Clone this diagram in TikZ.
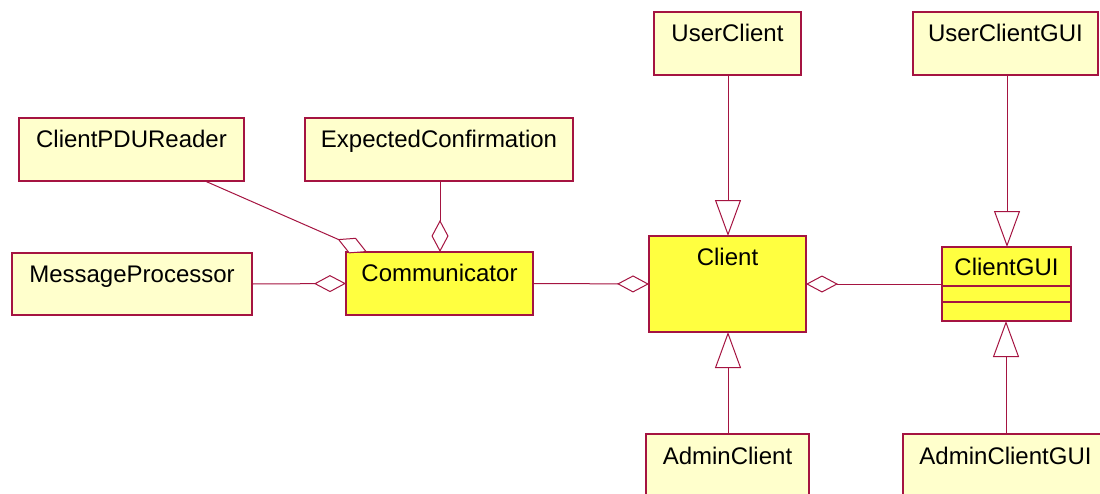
\documentclass[tikz,border=0pt]{standalone}
\usepackage{fontspec}
\setmainfont{Liberation Sans}
\usetikzlibrary{arrows.meta,calc}
\definecolor{umlred}{RGB}{165,20,65}
\definecolor{lightyel}{RGB}{255,255,204}
\definecolor{brightyel}{RGB}{255,255,64}
\tikzset{
  clsbox/.style={draw=umlred,line width=1.1pt,fill=lightyel,inner sep=0pt,outer sep=0pt,anchor=north west},
  hotbox/.style={clsbox,fill=brightyel},
  clstext/.style={anchor=base,inner sep=0pt,font=\fontsize{24}{28}\selectfont},
  conn/.style={draw=umlred,line width=1pt},
  aggr/.style={conn,{Diamond[length=32pt,width=17pt,fill=white,line width=1pt]}-},
  inher/.style={conn,-{Triangle[length=36pt,width=26pt,fill=white,line width=1pt]}}
}
\begin{document}
\begin{tikzpicture}[x=1pt,y=-1pt]
\useasboundingbox (0,0) rectangle (1100,493);
\clip (0,0) rectangle (1100,493);
\fill[white] (0,0) rectangle (1100,493);
% boxes
\node[clsbox,minimum width=225pt,minimum height=63pt] (cpr) at (19,118) {};
\node[clsbox,minimum width=268pt,minimum height=63pt] (ec) at (305,118) {};
\node[clsbox,minimum width=240pt,minimum height=62pt] (mp) at (12,253) {};
\node[hotbox,minimum width=187pt,minimum height=63pt] (comm) at (346,252) {};
\node[hotbox,minimum width=157pt,minimum height=96pt] (cl) at (649,236) {};
\node[hotbox,minimum width=129pt,minimum height=74pt] (cg) at (942,247) {};
\node[clsbox,minimum width=147pt,minimum height=63pt] (uc) at (654,12) {};
\node[clsbox,minimum width=185pt,minimum height=63pt] (ucg) at (913,12) {};
\node[clsbox,minimum width=163pt,minimum height=70pt] (ac) at (646,434) {};
\node[clsbox,minimum width=205pt,minimum height=70pt] (acg) at (903,434) {};
% ClientGUI compartments
\draw[draw=umlred,line width=1.1pt] ($(cg.north west)+(0,39)$) -- ($(cg.north east)+(0,39)$);
\draw[draw=umlred,line width=1.1pt] ($(cg.north west)+(0,55)$) -- ($(cg.north east)+(0,55)$);
% labels
\node[clstext] (cprt) at ($(cpr.north)+(0,29)$) {ClientPDUReader};
\node[clstext] (ect) at ($(ec.north)+(0,29)$) {ExpectedConfirmation};
\node[clstext] (mpt) at ($(mp.north)+(0,29)$) {MessageProcessor};
\node[clstext] (commt) at ($(comm.north)+(0,29)$) {Communicator};
\node[clstext] (clt) at ($(cl.north)+(0,29)$) {Client};
\node[clstext] (cgt) at ($(cg.north)+(0,28)$) {ClientGUI};
\node[clstext] (uct) at ($(uc.north)+(0,29)$) {UserClient};
\node[clstext] (ucgt) at ($(ucg.north)+(0,29)$) {UserClientGUI};
\node[clstext] (act) at ($(ac.north)+(0,30)$) {AdminClient};
\node[clstext] (acgt) at ($(acg.north)+(0,30)$) {AdminClientGUI};
% aggregations
\draw[aggr] ($(comm.north west)+(21,0)$) -- ($(cpr.south west)+(186,0)$);
\draw[aggr] ($(comm.north west)+(94,0)$) -- ($(ec.south west)+(135,0)$);
\draw[aggr] (comm.west) -- (mp.east);
\draw[aggr] (cl.west) -- (comm.east);
\draw[aggr] (cl.east) -- (cg.west);
% generalizations
\draw[inher] ($(uc.south west)+(74,0)$) -- (cl.north -| {$(uc.south west)+(74,0)$});
\draw[inher] ($(ucg.south west)+(94,0)$) -- (cg.north -| {$(ucg.south west)+(94,0)$});
\draw[inher] ($(ac.north west)+(82,0)$) -- (cl.south -| {$(ac.north west)+(82,0)$});
\draw[inher] ($(acg.north west)+(103,0)$) -- (cg.south -| {$(acg.north west)+(103,0)$});
\end{tikzpicture}
\end{document}
